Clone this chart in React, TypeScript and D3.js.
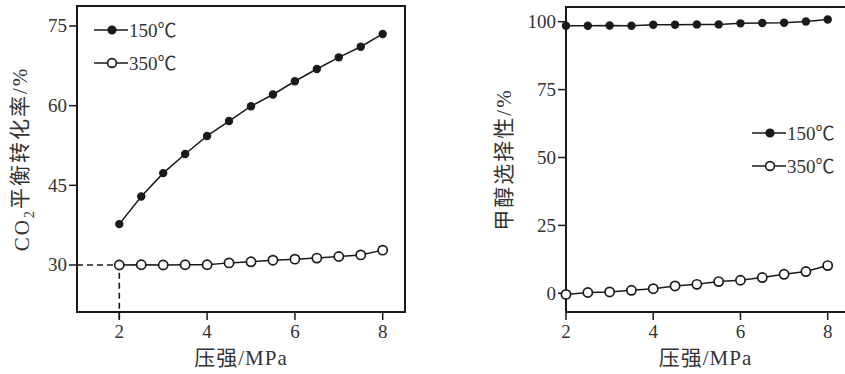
import * as d3 from "d3";

const pressures = [2, 2.5, 3, 3.5, 4, 4.5, 5, 5.5, 6, 6.5, 7, 7.5, 8];

// CO2 equilibrium conversion (%)
const conv150 = [37.7, 42.9, 47.3, 50.9, 54.3, 57.1, 59.9, 62.1, 64.6, 66.9, 69.1, 71.1, 73.5];
const conv350 = [30.0, 30.05, 30.0, 30.05, 30.05, 30.4, 30.6, 30.9, 31.1, 31.3, 31.6, 31.9, 32.8];

// methanol selectivity (%)
const sel150 = [98.5, 98.5, 98.6, 98.5, 98.9, 98.9, 99.0, 99.0, 99.4, 99.5, 99.6, 100.1, 100.8];
const sel350 = [-0.4, 0.3, 0.5, 1.1, 1.7, 2.7, 3.3, 4.3, 4.8, 5.8, 7.0, 8.0, 10.2];

const xTicks = [2, 4, 6, 8];
const convTicks = [30, 45, 60, 75];
const selTicks = [0, 25, 50, 75, 100];
const seriesNames = ["150℃", "350℃"];

const INK = "#1a1a1a";
const SERIF = "'Liberation Serif', 'Times New Roman', 'Noto Sans CJK SC', serif";

type Frame = { left: number; right: number; top: number; bottom: number };

function Panel({
  frame,
  x,
  y,
  yTicks,
  s150,
  s350,
  yLabel,
  labelX,
  legend,
  dashed,
}: {
  frame: Frame;
  x: d3.ScaleLinear<number, number>;
  y: d3.ScaleLinear<number, number>;
  yTicks: number[];
  s150: number[];
  s350: number[];
  yLabel: React.ReactNode;
  labelX: number;
  legend: { x: number; y: number };
  dashed?: { x: number; y: number };
}) {
  const line = d3
    .line<number>()
    .x((_, i) => x(pressures[i]))
    .y((d) => y(d));
  const tickLen = 8;
  const midY = (frame.top + frame.bottom) / 2;
  const midX = (frame.left + Math.min(frame.right, 845)) / 2;

  return (
    <g>
      {dashed && (
        <path
          d={`M${frame.left},${y(dashed.y)}H${x(dashed.x)}V${frame.bottom + tickLen}`}
          fill="none"
          stroke={INK}
          strokeWidth={1.6}
          strokeDasharray="6 4"
        />
      )}
      <rect
        x={frame.left}
        y={frame.top}
        width={frame.right - frame.left}
        height={frame.bottom - frame.top}
        fill="none"
        stroke={INK}
        strokeWidth={2}
      />
      {yTicks.map((t) => (
        <g key={t}>
          <line x1={frame.left - tickLen} x2={frame.left} y1={y(t)} y2={y(t)} stroke={INK} strokeWidth={1.5} />
          <text
            x={frame.left - tickLen - 2}
            y={y(t)}
            dy="0.34em"
            textAnchor="end"
            fontSize={19}
            fontFamily={SERIF}
            fill="#333"
          >
            {t}
          </text>
        </g>
      ))}
      {xTicks.map((t) => (
        <g key={t}>
          <line x1={x(t)} x2={x(t)} y1={frame.bottom} y2={frame.bottom + tickLen} stroke={INK} strokeWidth={1.5} />
          <text x={x(t)} y={frame.bottom + 26} textAnchor="middle" fontSize={19} fontFamily={SERIF} fill="#333">
            {t}
          </text>
        </g>
      ))}

      <path d={line(s350) ?? ""} fill="none" stroke={INK} strokeWidth={1.5} />
      <path d={line(s150) ?? ""} fill="none" stroke={INK} strokeWidth={1.5} />
      {s350.map((v, i) => (
        <circle key={"o" + i} cx={x(pressures[i])} cy={y(v)} r={4.6} fill="#fff" stroke={INK} strokeWidth={1.7} />
      ))}
      {s150.map((v, i) => (
        <circle key={"f" + i} cx={x(pressures[i])} cy={y(v)} r={4.2} fill={INK} />
      ))}

      {seriesNames.map((name, i) => {
        const ly = legend.y + i * 33;
        return (
          <g key={name}>
            <line x1={legend.x} x2={legend.x + 34} y1={ly} y2={ly} stroke={INK} strokeWidth={1.6} />
            <circle
              cx={legend.x + 18}
              cy={ly}
              r={i === 0 ? 3.8 : 4.4}
              fill={i === 0 ? INK : "#fff"}
              stroke={INK}
              strokeWidth={1.6}
            />
            <text x={legend.x + 35} y={ly} dy="0.36em" fontSize={19} fontFamily={SERIF} fill="#333">
              {name}
            </text>
          </g>
        );
      })}

      <text
        transform={`translate(${labelX},${midY}) rotate(-90)`}
        textAnchor="middle"
        dy="0.35em"
        fontSize={21}
        letterSpacing={2}
        fontFamily={SERIF}
        fill="#333"
      >
        {yLabel}
      </text>
      <text x={midX} y={frame.bottom + 53} textAnchor="middle" fontSize={21} letterSpacing={1} fontFamily={SERIF} fill="#333">
        压强/MPa
      </text>
    </g>
  );
}

export default function App() {
  const leftFrame = { left: 77, right: 405, top: 6, bottom: 312 };
  const rightFrame = { left: 566, right: 870, top: 7, bottom: 312 };

  const xL = d3.scaleLinear([2, 8], [119.3, 382.7]);
  const yL = d3.scaleLinear([30, 75], [265, 26]);
  const xR = d3.scaleLinear([2, 8], [566, 827.7]);
  const yR = d3.scaleLinear([0, 100], [293.3, 21.7]);

  return (
    <svg
      width={845}
      height={374}
      viewBox="0 0 845 374"
      style={{ position: "absolute", left: 0, top: 0, background: "#fff" }}
    >
      <rect width={845} height={374} fill="#fff" />
      <Panel
        frame={leftFrame}
        x={xL}
        y={yL}
        yTicks={convTicks}
        s150={conv150}
        s350={conv350}
        labelX={22}
        legend={{ x: 94, y: 30 }}
        dashed={{ x: 2, y: 30 }}
        yLabel={
          <>
            CO<tspan fontSize={14} dy="0.3em">2</tspan>
            <tspan dy="-0.3em">平衡转化率/%</tspan>
          </>
        }
      />
      <Panel
        frame={rightFrame}
        x={xR}
        y={yR}
        yTicks={selTicks}
        s150={sel150}
        s350={sel350}
        labelX={504}
        legend={{ x: 752, y: 133 }}
        yLabel="甲醇选择性/%"
      />
    </svg>
  );
}
